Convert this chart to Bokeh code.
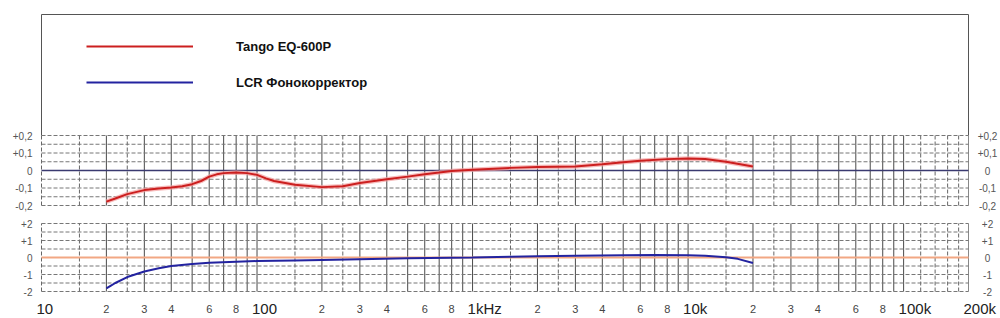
import numpy as np
from bokeh.plotting import figure
from bokeh.models import Range1d, Legend, LegendItem
from bokeh.core.properties import value
from bokeh.embed import file_html
from bokeh.resources import INLINE

# ---------------- data ----------------
series_names = ["Tango EQ-600P", "LCR Фонокорректор"]

tango_freq = [20, 22, 25, 30, 35, 40, 45, 50, 55, 60, 65, 70, 80, 90, 100, 110, 120, 150,
              200, 250, 300, 400, 500, 600, 700, 800, 1000, 1500, 2000, 3000, 4000, 5000,
              6000, 8000, 10000, 12000, 15000, 20000]
tango_db = [-0.178, -0.16, -0.135, -0.112, -0.103, -0.097, -0.09, -0.078, -0.06, -0.035,
            -0.022, -0.015, -0.012, -0.015, -0.025, -0.045, -0.06, -0.082,
            -0.095, -0.09, -0.072, -0.05, -0.035, -0.022, -0.012, -0.003, 0.004, 0.015,
            0.02, 0.023, 0.036, 0.047, 0.056, 0.065, 0.068, 0.066, 0.05, 0.023]

lcr_freq = [20, 21, 22, 25, 30, 35, 40, 50, 60, 80, 100, 150, 200, 300, 500, 1000, 1500,
            2000, 3000, 5000, 7000, 10000, 12000, 15000, 17000, 20000]
lcr_db = [-1.82, -1.65, -1.5, -1.15, -0.82, -0.63, -0.5, -0.38, -0.31, -0.25, -0.21, -0.17,
          -0.14, -0.1, -0.05, 0.0, 0.05, 0.07, 0.1, 0.13, 0.15, 0.13, 0.1, 0.02, -0.08, -0.32]

x_tick_freqs = [10, 20, 30, 40, 60, 80, 100, 200, 300, 400, 600, 800, 1000, 2000, 3000,
                4000, 6000, 8000, 10000, 20000, 30000, 40000, 60000, 80000, 100000, 200000]
x_tick_labels = ["10", "2", "3", "4", "6", "8", "100", "2", "3", "4", "6", "8", "1kHz",
                 "2", "3", "4", "6", "8", "10k", "2", "3", "4", "6", "8", "100k", "200k"]

upper_ticks = [0.2, 0.1, 0.0, -0.1, -0.2]
upper_labels = ["+0,2", "+0,1", "0", "-0,1", "-0,2"]
lower_ticks = [2, 1, 0, -1, -2]
lower_labels = ["+2", "+1", "0", "-1", "-2"]

upper_grid = [0.2, 0.15, 0.1, 0.05, -0.05, -0.1, -0.15, -0.2]
lower_grid = [2, 1.5, 1, 0.5, -0.5, -1, -1.5, -2]

# ---------------- layout (pixels) ----------------
W, H = 1000, 318
X0, X1 = 41, 968          # pixel columns of 10 Hz and 200 kHz
F0, F1 = 10, 200000
UP_TOP, UP_BOT = 135, 205  # +0.2 / -0.2
LO_TOP, LO_BOT = 223, 291  # +2 / -2
FRAME_TOP = 14
XLAB_PX = 308

lg0, lg1 = np.log10(F0), np.log10(F1)
k = (lg1 - lg0) / (X1 - X0)
x_range = Range1d(10 ** (lg0 - X0 * k), 10 ** (lg1 + (W - X1) * k))


def make_range(top_px, bot_px, vtop, vbot):
    s = (vtop - vbot) / (bot_px - top_px)
    return Range1d(vbot - (H - bot_px) * s, vtop + top_px * s), s


up_range, s_up = make_range(UP_TOP, UP_BOT, 0.2, -0.2)
lo_range, s_lo = make_range(LO_TOP, LO_BOT, 2, -2)

p = figure(width=W, height=H, x_axis_type="log", x_range=x_range, y_range=up_range,
           x_axis_location=None, y_axis_location=None, min_border=0,
           toolbar_location=None, output_backend="svg")
p.extra_y_ranges = {"lo": lo_range}
p.grid.visible = False
p.outline_line_color = None
p.background_fill_color = "white"
p.border_fill_color = "white"

FONT = value("Liberation Sans")

# ---------- outer frame around legend area ----------
frame_top_val = 0.2 + (UP_TOP - FRAME_TOP) * s_up
p.segment(x0=[F0, F0, F1], y0=[frame_top_val, frame_top_val, frame_top_val],
          x1=[F1, F0, F1], y1=[frame_top_val, 0.2, 0.2], line_color="#555555", line_width=1)

# ---------- vertical grid ----------
mults = [1, 1.5, 2, 2.5, 3, 4, 5, 6, 7, 8, 9]
solid_f, dashed_f = [], []
for d in [10, 100, 1000, 10000]:
    for m in mults:
        f = d * m
        if f == 10:
            dashed_f.append(f)
        elif m in (1.5, 2.5):
            dashed_f.append(f)
        else:
            solid_f.append(f)
solid_f.append(100000)
dashed_f += [120000, 140000, 160000, 180000]
edge_f = [200000]

for rng, top, bot in [("default", 0.2, -0.2), ("lo", 2, -2)]:
    p.segment(x0=solid_f, y0=bot, x1=solid_f, y1=top, line_color="#4a4a4a", line_width=1,
              y_range_name=rng)
    p.segment(x0=dashed_f, y0=bot, x1=dashed_f, y1=top, line_color="#666666", line_width=1,
              line_dash="4 2", y_range_name=rng)
    p.segment(x0=edge_f, y0=bot, x1=edge_f, y1=top, line_color="#888888", line_width=1,
              y_range_name=rng)

# ---------- horizontal grid ----------
p.segment(x0=F0, y0=upper_grid, x1=F1, y1=upper_grid, line_color="#777777", line_width=1,
          line_dash="4 2")
p.segment(x0=F0, y0=lower_grid, x1=F1, y1=lower_grid, line_color="#777777", line_width=1,
          line_dash="4 2", y_range_name="lo")
p.segment(x0=[F0], y0=[0], x1=[F1], y1=[0], line_color="#3a3a70", line_width=1.5)
p.segment(x0=[F0], y0=[0], x1=[F1], y1=[0], line_color="#f2a783", line_width=2.2,
          y_range_name="lo")

# ---------- curves ----------
p.line(tango_freq, tango_db, line_color="#f3a0a0", line_width=4.5, line_alpha=0.7)
r_red = p.line(tango_freq, tango_db, line_color="#cc1f1f", line_width=2)
r_blue = p.line(lcr_freq, lcr_db, line_color="#2323a0", line_width=2, y_range_name="lo")

# ---------- y labels ----------
for ticks, labels, rng in [(upper_ticks, upper_labels, "default"),
                           (lower_ticks, lower_labels, "lo")]:
    p.text(x=F0, y=ticks, text=labels, x_offset=-9, text_align="right",
           text_baseline="middle", text_font=FONT, text_font_size="10px",
           text_color="#555555", y_range_name=rng)
    p.text(x=F1, y=ticks, text=labels, x_offset=19, text_align="center",
           text_baseline="middle", text_font=FONT, text_font_size="10px",
           text_color="#555555", y_range_name=rng)

# ---------- x labels ----------
xlab_val = -2 - (XLAB_PX - LO_BOT) * s_lo
big_f = [f for f, t in zip(x_tick_freqs, x_tick_labels) if not t.isdigit() or len(t) > 1]
big_t = [t for t in x_tick_labels if not t.isdigit() or len(t) > 1]
small_f = [f for f, t in zip(x_tick_freqs, x_tick_labels) if t.isdigit() and len(t) == 1]
small_t = [t for t in x_tick_labels if t.isdigit() and len(t) == 1]
p.text(x=small_f, y=xlab_val, text=small_t, text_align="center", text_baseline="middle",
       text_font=FONT, text_font_size="11px", text_color="#444444", y_range_name="lo")
p.text(x=big_f, y=xlab_val, text=big_t, x_offset=-5, text_align="left",
       text_baseline="middle", text_font=FONT, text_font_size="15px", text_color="#222222",
       y_range_name="lo")

# ---------- legend ----------
legend = Legend(items=[LegendItem(label=series_names[0], renderers=[r_red]),
                       LegendItem(label=series_names[1], renderers=[r_blue])],
                location=(86, H - 92), orientation="vertical",
                glyph_width=107, glyph_height=20, label_height=20, spacing=16,
                padding=0, margin=0, label_standoff=43,
                border_line_color=None, background_fill_alpha=0,
                label_text_font="Liberation Sans", label_text_font_style="bold",
                label_text_font_size="13px", label_text_color="#111111")
p.add_layout(legend)

open("out.html", "w").write(file_html(p, INLINE))
